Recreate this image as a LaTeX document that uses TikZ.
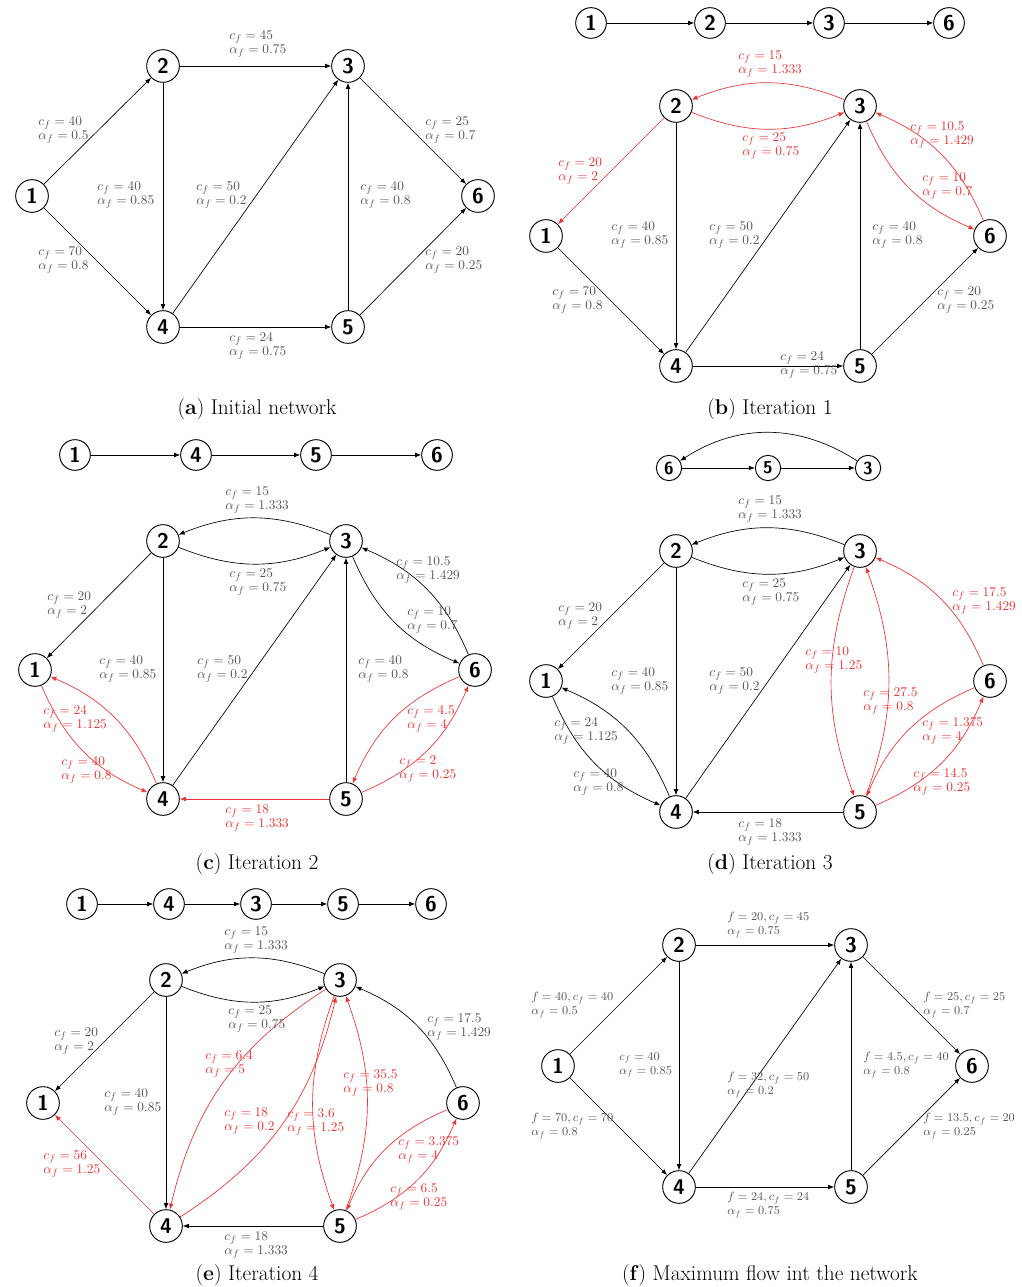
\documentclass[tikz,border=0pt]{standalone}
\usepackage{tikz}
\usetikzlibrary{arrows.meta}
\definecolor{resred}{HTML}{EE3333}
\definecolor{labgray}{HTML}{555555}
\newcommand{\flowlab}[5][lbl]{\node[#1] (#2) at (#3) {$c_f = #4$\\$\alpha_f = #5$};}
\newcommand{\fflowlab}[5]{\node[lbl,font=\fontsize{9}{10.5}\selectfont] (#1) at (#2) {$f = #3, c_f = #4$\\$\alpha_f = #5$};}

\begin{document}
\begin{tikzpicture}[x=0.75pt,y=-0.75pt,>={Latex[length=4.5pt,width=3.5pt]},
 vert/.style={circle,draw,line width=0.7pt,minimum size=24.5pt,inner sep=0pt,font=\sffamily\bfseries\fontsize{16}{16}\selectfont},
 pvert/.style={vert,minimum size=23pt},
 svert/.style={vert,minimum size=19pt,font=\sffamily\bfseries\fontsize{13}{13}\selectfont},
 lbl/.style={align=left,anchor=west,inner sep=0pt,text=labgray,font=\fontsize{10}{11}\selectfont},
 rlbl/.style={lbl,text=resred},
 arr/.style={->,line width=0.5pt},
 rarr/.style={arr,draw=resred},
 captext/.style={font=\fontsize{16}{19}\selectfont}]
 \useasboundingbox (0,0) rectangle (1021,1287);

 \foreach \n/\px/\py in {1/32/196,2/163/66,3/348/66,4/163/327,5/348/327,6/478/196} \node[vert] (a\n) at (\px,\py) {\n};
 \foreach \s/\t in {1/2,1/4,2/3,2/4,4/3,5/3,3/6,5/6,4/5} \draw[arr] (a\s)--(a\t);
 \flowlab{la12}{38,130}{40}{0.5}
 \flowlab{la14}{38,260}{70}{0.8}
 \flowlab{la23}{229,44}{45}{0.75}
 \flowlab{la24}{97,195}{40}{0.85}
 \flowlab{la43}{196,195}{50}{0.2}
 \flowlab{la53}{360,195}{40}{0.8}
 \flowlab{la36}{425,130}{25}{0.7}
 \flowlab{la56}{425,260}{20}{0.25}
 \flowlab{la45}{229,346}{24}{0.75}
 \node[captext] (capa) at (257,409) {(\textbf{a}) Initial network};

 \foreach \n/\px in {1/591,2/710,3/829,6/949} \node[pvert] (bp\n) at (\px,23) {\n};
 \foreach \s/\t in {1/2,2/3,3/6} \draw[arr] (bp\s)--(bp\t);
 \foreach \n/\px/\py in {1/546/236,2/676/106,3/860/106,4/676/366,5/860/366,6/990/236} \node[vert] (b\n) at (\px,\py) {\n};
 \foreach \s/\t in {2/4,4/3,5/3,1/4,5/6,4/5} \draw[arr] (b\s)--(b\t);
 \draw[rarr] (b2)--(b1);
 \foreach \s/\t in {3/2,2/3,6/3,3/6} \draw[rarr] (b\s) to[bend right=22] (b\t);
 \flowlab[rlbl]{lb32}{738,64}{15}{1.333}
 \flowlab[rlbl]{lb23}{742,146}{25}{0.75}
 \flowlab[rlbl]{lb21}{558,171}{20}{2}
 \flowlab[rlbl]{lb63}{910,135}{10.5}{1.429}
 \flowlab[rlbl]{lb36}{922,186}{10}{0.7}
 \flowlab{lb24}{611,235}{40}{0.85}
 \flowlab{lb43}{709,235}{50}{0.2}
 \flowlab{lb53}{872,235}{40}{0.8}
 \flowlab{lb14}{552,300}{70}{0.8}
 \flowlab{lb56}{937,300}{20}{0.25}
 \flowlab{lb45}{780,365}{24}{0.75}
 \node[captext] (capb) at (770,409) {(\textbf{b}) Iteration 1};

 \foreach \n/\px in {1/75,4/196,5/316,6/437} \node[pvert] (cp\n) at (\px,455) {\n};
 \foreach \s/\t in {1/4,4/5,5/6} \draw[arr] (cp\s)--(cp\t);
 \foreach \n/\px/\py in {1/35/670,2/163/541,3/346/541,4/163/799,5/346/799,6/475/670} \node[vert] (c\n) at (\px,\py) {\n};
 \foreach \s/\t in {2/1,2/4,4/3,5/3} \draw[arr] (c\s)--(c\t);
 \foreach \s/\t in {3/2,2/3,6/3,3/6} \draw[arr] (c\s) to[bend right=22] (c\t);
 \foreach \s/\t in {4/1,1/4,6/5,5/6} \draw[rarr] (c\s) to[bend right=22] (c\t);
 \draw[rarr] (c5)--(c4);
 \flowlab{lc32}{225,500}{15}{1.333}
 \flowlab{lc23}{229,582}{25}{0.75}
 \flowlab{lc21}{47,605}{20}{2}
 \flowlab{lc24}{99,669}{40}{0.85}
 \flowlab{lc43}{197,669}{50}{0.2}
 \flowlab{lc53}{358,669}{40}{0.8}
 \flowlab{lc63}{396,570}{10.5}{1.429}
 \flowlab{lc36}{407,620}{10}{0.7}
 \flowlab[rlbl]{lc41}{43,719}{24}{1.125}
 \flowlab[rlbl]{lc14}{61,770}{40}{0.8}
 \flowlab[rlbl]{lc65}{407,719}{4.5}{4}
 \flowlab[rlbl]{lc56}{399,769}{2}{0.25}
 \flowlab[rlbl]{lc54}{225,818}{18}{1.333}
 \node[captext] (capc) at (257,864) {(\textbf{c}) Iteration 2};

 \foreach \n/\px in {6/669,5/768,3/868} \node[svert] (dp\n) at (\px,468) {\n};
 \draw[arr] (dp6)--(dp5); \draw[arr] (dp5)--(dp3); \draw[arr] (dp3) to[bend right=33] (dp6);
 \foreach \n/\px/\py in {1/546/681,2/676/551,3/860/551,4/676/812,5/860/812,6/990/681} \node[vert] (d\n) at (\px,\py) {\n};
 \foreach \s/\t in {2/1,2/4,4/3,5/4} \draw[arr] (d\s)--(d\t);
 \foreach \s/\t in {3/2,2/3,4/1,1/4} \draw[arr] (d\s) to[bend right=22] (d\t);
 \foreach \s/\t in {3/5,5/3} \draw[rarr] (d\s) to[bend right=20] (d\t);
 \foreach \s/\t in {6/3,6/5,5/6} \draw[rarr] (d\s) to[bend right=22] (d\t);
 \flowlab{ld32}{738,509}{15}{1.333}
 \flowlab{ld23}{742,592}{25}{0.75}
 \flowlab{ld21}{558,616}{20}{2}
 \flowlab{ld24}{611,681}{40}{0.85}
 \flowlab{ld43}{709,681}{50}{0.2}
 \flowlab{ld41}{554,731}{24}{1.125}
 \flowlab{ld14}{573,782}{40}{0.8}
 \flowlab{ld54}{738,832}{18}{1.333}
 \flowlab[rlbl]{ld35}{805,660}{10}{1.25}
 \flowlab[rlbl]{ld53}{863,701}{27.5}{0.8}
 \flowlab[rlbl]{ld63}{952,601}{17.5}{1.429}
 \flowlab[rlbl]{ld65}{922,731}{1.375}{4}
 \flowlab[rlbl]{ld56}{913,782}{14.5}{0.25}
 \node[captext] (capd) at (770,864) {(\textbf{d}) Iteration 3};

 \foreach \n/\px in {1/82,4/169,3/256,5/343,6/431} \node[pvert] (ep\n) at (\px,904) {\n};
 \foreach \s/\t in {1/4,4/3,3/5,5/6} \draw[arr] (ep\s)--(ep\t);
 \foreach \n/\px/\py in {1/43/1103,2/166/980,3/340/980,4/166/1226,5/340/1226,6/463/1103} \node[vert] (e\n) at (\px,\py) {\n};
 \foreach \s/\t in {2/1,2/4,5/4} \draw[arr] (e\s)--(e\t);
 \foreach \s/\t in {3/2,2/3,6/3} \draw[arr] (e\s) to[bend right=22] (e\t);
 \draw[rarr] (e4)--(e1);
 \foreach \s/\t in {3/4,4/3,6/5,5/6} \draw[rarr] (e\s) to[bend right=22] (e\t);
 \foreach \s/\t in {3/5,5/3} \draw[rarr] (e\s) to[bend right=20] (e\t);
 \flowlab{le32}{224,940}{15}{1.333}
 \flowlab{le23}{228,1019}{25}{0.75}
 \flowlab{le21}{54,1041}{20}{2}
 \flowlab{le24}{104,1102}{40}{0.85}
 \flowlab{le63}{427,1027}{17.5}{1.429}
 \flowlab{le54}{224,1245}{18}{1.333}
 \flowlab[rlbl]{le41}{43,1164}{56}{1.25}
 \flowlab[rlbl]{le34}{205,1064}{6.4}{5}
 \flowlab[rlbl]{le43}{224,1121}{18}{0.2}
 \flowlab[rlbl]{le35}{287,1122}{3.6}{1.25}
 \flowlab[rlbl]{le53}{343,1083}{35.5}{0.8}
 \flowlab[rlbl]{le65}{398,1150}{3.375}{4}
 \flowlab[rlbl]{le56}{390,1197}{6.5}{0.25}
 \node[captext] (cape) at (257,1275) {(\textbf{e}) Iteration 4};

 \foreach \n/\px/\py in {1/558/1066,2/679/945,3/851/945,4/679/1187,5/851/1187,6/972/1066} \node[vert] (f\n) at (\px,\py) {\n};
 \foreach \s/\t in {1/2,1/4,2/3,2/4,4/3,5/3,3/6,5/6,4/5} \draw[arr] (f\s)--(f\t);
 \fflowlab{lf12}{531,1005}{40}{40}{0.5}
 \fflowlab{lf14}{531,1126}{70}{70}{0.8}
 \fflowlab{lf23}{727,925}{20}{45}{0.75}
 \node[lbl,font=\fontsize{9}{10.5}\selectfont] (lf24) at (619,1065) {$c_f = 40$\\$\alpha_f = 0.85$};
 \fflowlab{lf43}{727,1085}{32}{50}{0.2}
 \fflowlab{lf53}{863,1065}{4.5}{40}{0.8}
 \fflowlab{lf36}{923,1005}{25}{25}{0.7}
 \fflowlab{lf56}{923,1126}{13.5}{20}{0.25}
 \fflowlab{lf45}{727,1205}{24}{24}{0.75}
 \node[captext] (capf) at (770,1275) {(\textbf{f}) Maximum flow int the network};
\end{tikzpicture}
\end{document}
